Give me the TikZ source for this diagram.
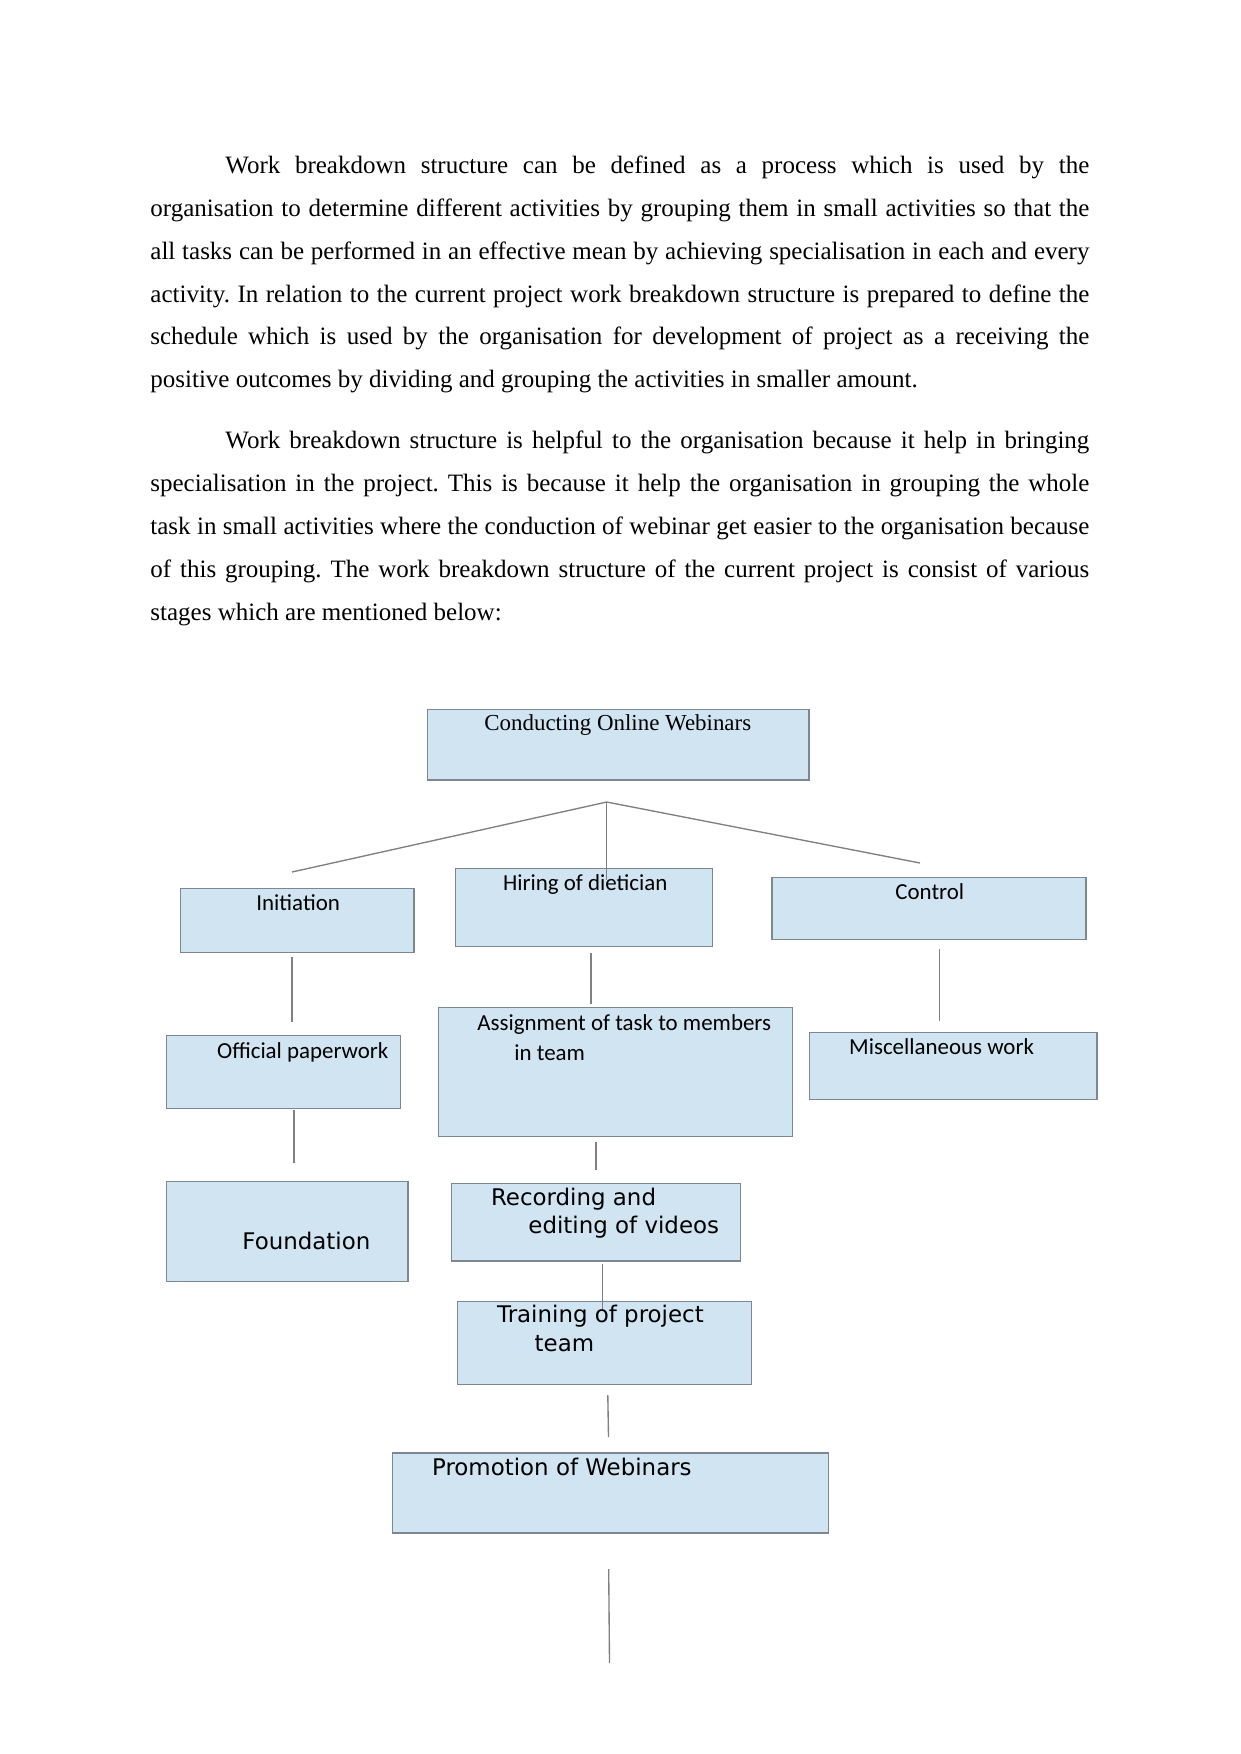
\documentclass[tikz,border=0pt]{standalone}
\usepackage{fontspec}
\setmainfont{Liberation Serif}
\newfontfamily\calibri{Carlito}
\newfontfamily\dejavu{DejaVu Sans}
\usetikzlibrary{fit}
\frenchspacing
\definecolor{boxfill}{RGB}{208,228,242}
\definecolor{boxline}{RGB}{125,135,146}
\definecolor{conline}{RGB}{128,128,128}
\tikzset{
  wbs/.style={draw=boxline, fill=boxfill, line width=0.55pt, inner sep=0pt, rectangle},
  con/.style={draw=conline, line width=0.65pt},
  body/.style={anchor=base west, inner sep=0pt, font=\fontsize{12}{14}\selectfont},
  serlab/.style={anchor=base west, inner sep=0pt, font=\fontsize{11}{13}\selectfont},
  callab/.style={anchor=base west, inner sep=0pt, font=\calibri\fontsize{11}{13}\selectfont},
  djlab/.style={anchor=base west, inner sep=0pt, font=\dejavu\fontsize{11}{13}\selectfont}
}
\newcommand{\fullline}[1]{\makebox[450.7pt][s]{\frenchspacing #1}}
\newcommand{\firstline}[1]{\makebox[414.7pt][s]{\frenchspacing #1}}
\begin{document}
\begin{tikzpicture}[x=0.48pt, y=-0.48pt]
\useasboundingbox (0,0) rectangle (1241,1754);
% paragraph 1
\node[body] (l1) at (225,173.3) {\firstline{Work breakdown structure can be defined as a process which is used by the}};
\node[body] (l2) at (150,216.2) {\fullline{organisation to determine different activities by grouping them in small activities so that the}};
\node[body] (l3) at (150,259.1) {\fullline{all tasks can be performed in an effective mean by achieving specialisation in each and every}};
\node[body] (l4) at (150,302.0) {\fullline{activity. In relation to the current project work breakdown structure is prepared to define the}};
\node[body] (l5) at (150,344.9) {\fullline{schedule which is used by the organisation for development of project as a receiving the}};
\node[body] (l6) at (150,387.8) {\frenchspacing positive outcomes by dividing and grouping the activities in smaller amount.};
% paragraph 2
\node[body] (m1) at (225,448.6) {\firstline{Work breakdown structure is helpful to the organisation because it help in bringing}};
\node[body] (m2) at (150,491.5) {\fullline{specialisation in the project. This is because it help the organisation in grouping the whole}};
\node[body] (m3) at (150,534.4) {\fullline{task in small activities where the conduction of webinar get easier to the organisation because}};
\node[body] (m4) at (150,577.3) {\fullline{of this grouping. The work breakdown structure of the current project is consist of various}};
\node[body] (m5) at (150,620.2) {\frenchspacing stages which are mentioned below:};
% boxes
\node[wbs, fit={(427.5,709.5) (809,780)}] (top) {};
\node[wbs, fit={(180.4,888.7) (414,952.3)}] (init) {};
\node[wbs, fit={(455.3,868.7) (712.7,946.3)}] (hire) {};
\node[wbs, fit={(772,877.3) (1086,939.3)}] (ctrl) {};
\node[wbs, fit={(166.4,1035.3) (400.3,1108.3)}] (off) {};
\node[wbs, fit={(438.5,1007.3) (792.4,1136.7)}] (asg) {};
\node[wbs, fit={(809.4,1032.3) (1097,1099.3)}] (misc) {};
\node[wbs, fit={(166.4,1181.3) (408,1281.3)}] (fnd) {};
\node[wbs, fit={(451.8,1183.3) (740.3,1261)}] (rec) {};
\node[wbs, fit={(457.3,1301.7) (751.7,1384.3)}] (trn) {};
\node[wbs, fit={(392.3,1453) (828.7,1533)}] (pro) {};
% connector points
\coordinate (j) at (606.7,802);
\coordinate (jl) at (292,872);
\coordinate (jr) at (920,863);
\coordinate (jm) at (606.7,880);
\coordinate (a1) at (292,957);   \coordinate (a2) at (292,1022);
\coordinate (b1) at (591,953);   \coordinate (b2) at (591,1004);
\coordinate (c1) at (939.5,949); \coordinate (c2) at (939.5,1021);
\coordinate (d1) at (294,1110);  \coordinate (d2) at (294,1163.3);
\coordinate (e1) at (596,1142);  \coordinate (e2) at (596,1170);
\coordinate (f1) at (602.3,1264);\coordinate (f2) at (602.3,1310);
\coordinate (g1) at (607.8,1395);\coordinate (g2) at (608.5,1437);
\coordinate (h1) at (608.7,1569);\coordinate (h2) at (609.5,1663);
% connectors
\draw[con] (j) -- (jl);
\draw[con] (j) -- (jr);
\draw[con] (j) -- (jm);
\draw[con] (a1) -- (a2);
\draw[con] (b1) -- (b2);
\draw[con] (c1) -- (c2);
\draw[con] (d1) -- (d2);
\draw[con] (e1) -- (e2);
\draw[con] (f1) -- (f2);
\draw[con] (g1) -- (g2);
\draw[con] (h1) -- (h2);
% labels
\node[serlab] (ttop) at (484,730.7) {Conducting Online Webinars};
\node[callab] (tinit) at (256,910.7) {Initiation};
\node[callab] (thire) at (502.7,890) {Hiring of dietician};
\node[callab] (tctrl) at (895,899.3) {Control};
\node[callab] (toff) at (216.7,1058.3) {Official paperwork};
\node[callab] (tasg1) at (477,1030) {Assignment of task to members};
\node[callab] (tasg2) at (514,1060) {in team};
\node[callab] (tmisc) at (848.8,1054.3) {Miscellaneous work};
\node[djlab] (tfnd) at (242,1249.3) {Foundation};
\node[djlab] (trec1) at (490.6,1205) {Recording and};
\node[djlab] (trec2) at (528,1233.3) {editing of videos};
\node[djlab] (ttrn1) at (496.7,1322.7) {Training of project};
\node[djlab] (ttrn2) at (534.3,1351.7) {team};
\node[djlab] (tpro) at (431.7,1475) {Promotion of Webinars};
\end{tikzpicture}
\end{document}
